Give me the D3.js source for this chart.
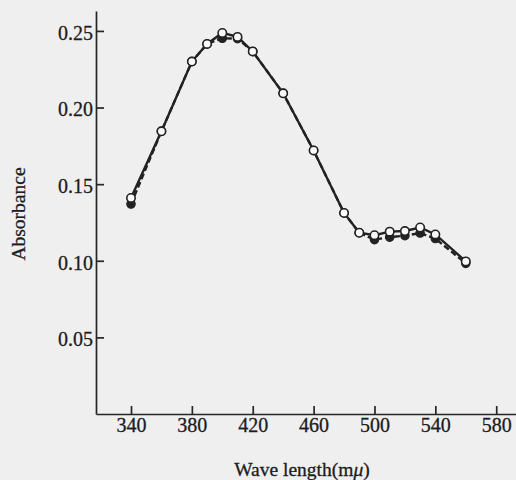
<!DOCTYPE html>
<html>
<head>
<meta charset="utf-8">
<script src="https://d3js.org/d3.v7.min.js"></script>
<style>
    body {
        margin: 0;
        background-color: #efefef;
    }
    text {
        font-family: "Liberation Serif", "Times New Roman", serif;
        fill: #1c1c1c;
        stroke: #1c1c1c;
        stroke-width: 0.3px;
    }
    .axis text {
        font-size: 20px;
    }
    .axis path, .axis line {
        stroke: #262626;
        stroke-width: 1.7px;
    }
    text.chart-label {
        font-size: 19.5px;
    }
</style>
</head>
<body>
<div id="container"></div>

<script>
    // wavelengths (m\u03bc) where the absorbance was measured
    const wavelengths = [340, 360, 380, 390, 400, 410, 420, 440, 460, 480, 490, 500, 510, 520, 530, 540, 560];

    // open circles, solid line
    const openValues = [0.141, 0.1845, 0.230, 0.2415, 0.2487, 0.2461, 0.2366, 0.2093, 0.172, 0.1312, 0.1183,
        0.1167, 0.119, 0.1194, 0.1217, 0.1172, 0.0996];

    // filled circles, dashed line
    const filledValues = [0.137, 0.1845, 0.230, 0.2415, 0.2452, 0.245, 0.2366, 0.2093, 0.172, 0.1312, 0.1183,
        0.1138, 0.1154, 0.1164, 0.1181, 0.1145, 0.0983];

    // tick labels
    const xTicks = [340, 380, 420, 460, 500, 540, 580];
    const yTicks = [0.05, 0.10, 0.15, 0.20, 0.25];

    const width = 516;
    const height = 480;

    const svg = d3.select("#container")
        .append("svg")
        .attr("width", width)
        .attr("height", height);

    // scales
    const x = d3.scaleLinear()
        .domain([317, 593])
        .range([96, 516]);

    const y = d3.scaleLinear()
        .domain([0, 0.263])
        .range([414, 11]);

    // X-axis, ticks pointing up into the plot
    svg.append("g")
        .attr("class", "axis")
        .attr("transform", "translate(0," + y(0) + ")")
        .call(d3.axisBottom(x)
            .tickValues(xTicks)
            .tickSizeInner(-8)
            .tickSizeOuter(0)
            .tickPadding(4)
            .tickFormat(d3.format("d")));

    // Y-axis, ticks pointing right
    svg.append("g")
        .attr("class", "axis")
        .attr("transform", "translate(" + x(317) + ",0)")
        .call(d3.axisLeft(y)
            .tickValues(yTicks)
            .tickSizeInner(-8)
            .tickSizeOuter(0)
            .tickPadding(3)
            .tickFormat(d3.format(".2f")))
        .selectAll("text")
        .attr("dy", "0.42em");

    const seriesOpen = wavelengths.map((w, i) => ({w: w, v: openValues[i]}));
    const seriesFilled = wavelengths.map((w, i) => ({w: w, v: filledValues[i]}));

    const line = d3.line()
        .x(d => x(d.w))
        .y(d => y(d.v));

    // filled series first so the open one sits on top
    svg.append("path")
        .datum(seriesFilled)
        .attr("fill", "none")
        .attr("stroke", "#222222")
        .attr("stroke-width", 2.4)
        .attr("stroke-dasharray", "6,3")
        .attr("d", line);

    svg.selectAll(".dot-filled")
        .data(seriesFilled)
        .enter()
        .append("circle")
        .attr("class", "dot-filled")
        .attr("cx", d => x(d.w))
        .attr("cy", d => y(d.v))
        .attr("r", 4.2)
        .attr("fill", "#222222")
        .attr("stroke", "#222222")
        .attr("stroke-width", 1.2);

    svg.append("path")
        .datum(seriesOpen)
        .attr("fill", "none")
        .attr("stroke", "#222222")
        .attr("stroke-width", 2.4)
        .attr("d", line);

    svg.selectAll(".dot-open")
        .data(seriesOpen)
        .enter()
        .append("circle")
        .attr("class", "dot-open")
        .attr("cx", d => x(d.w))
        .attr("cy", d => y(d.v))
        .attr("r", 4.2)
        .attr("fill", "#fafafa")
        .attr("stroke", "#222222")
        .attr("stroke-width", 1.6);

    // axis labels
    svg.append("text")
        .attr("class", "chart-label")
        .attr("transform", "translate(25,214) rotate(-90)")
        .attr("text-anchor", "middle")
        .text("Absorbance");

    const xLabel = svg.append("text")
        .attr("class", "chart-label")
        .attr("x", 302)
        .attr("y", 476)
        .attr("text-anchor", "middle");
    xLabel.append("tspan").text("Wave length(m");
    xLabel.append("tspan").style("font-style", "italic").text("\u03bc");
    xLabel.append("tspan").text(")");
</script>
</body>
</html>
